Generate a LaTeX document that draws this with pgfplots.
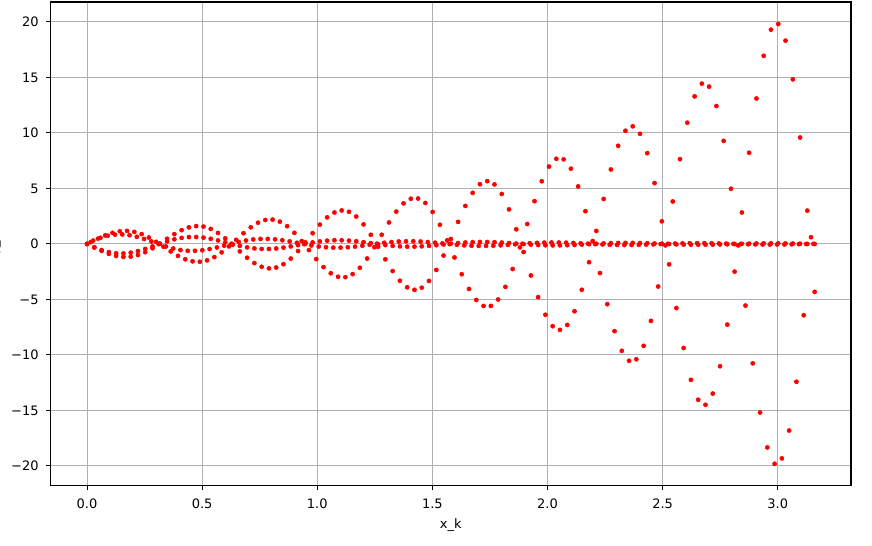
\documentclass[border=0pt]{standalone}
\usepackage{fontspec}
\setmainfont{DejaVu Sans}
\usepackage{pgfplots}
\pgfplotsset{compat=1.18}
\usepackage{pgfplotstable}
\definecolor{gridgray}{RGB}{176,176,176}

% columns: xa = x of series T and I1, xb = x of series I2
\pgfplotstableread{
xa xb T I1 I2
0 0 0 0 0
0.0316 0.0266 -0.321 -0.301 0.301
0.0632 0.0582 -0.629 -0.555 0.555
0.0948 0.0898 -0.893 -0.739 0.739
0.1264 0.1214 -1.082 -0.840 0.840
0.1580 0.1530 -1.171 -0.854 0.854
0.1896 0.1846 -1.146 -0.784 0.784
0.2212 0.2162 -1.000 -0.642 0.642
0.2528 0.2478 -0.742 -0.448 0.448
0.2844 0.2794 -0.390 -0.221 0.221
0.3160 0.3110 0.025 0.013 -0.013
0.3476 0.3426 0.465 0.232 -0.232
0.3792 0.3742 0.885 0.414 -0.414
0.4108 0.4058 1.241 0.546 -0.546
0.4424 0.4374 1.492 0.616 -0.616
0.4740 0.4690 1.606 0.622 -0.622
0.5056 0.5006 1.561 0.568 -0.568
0.5372 0.5322 1.352 0.462 -0.462
0.5688 0.5638 0.991 0.318 -0.318
0.6004 0.5954 0.502 0.151 -0.151
0.6320 0.6270 -0.069 -0.020 0.020
0.6636 0.6586 -0.671 -0.178 0.178
0.6952 0.6902 -1.243 -0.309 0.309
0.7268 0.7218 -1.723 -0.403 0.403
0.7584 0.7534 -2.058 -0.451 0.451
0.7900 0.7850 -2.201 -0.453 0.453
0.8216 0.8166 -2.127 -0.411 0.411
0.8532 0.8482 -1.828 -0.332 0.332
0.8848 0.8798 -1.321 -0.225 0.225
0.9164 0.9114 -0.645 -0.103 0.103
0.9480 0.9430 0.142 0.021 -0.021
0.9796 0.9746 0.966 0.136 -0.136
1.0112 1.0062 1.744 0.231 -0.231
1.0428 1.0378 2.392 0.297 -0.297
1.0744 1.0694 2.837 0.331 -0.331
1.1060 1.1010 3.016 0.330 -0.330
1.1376 1.1326 2.896 0.298 -0.298
1.1692 1.1642 2.470 0.238 -0.238
1.2008 1.1958 1.760 0.159 -0.159
1.2324 1.2274 0.823 0.070 -0.070
1.2640 1.2590 -0.260 -0.021 0.021
1.2956 1.2906 -1.388 -0.104 0.104
1.3272 1.3222 -2.445 -0.172 0.172
1.3588 1.3538 -3.319 -0.219 0.219
1.3904 1.3854 -3.908 -0.242 0.242
1.4220 1.4170 -4.132 -0.240 0.240
1.4536 1.4486 -3.943 -0.215 0.215
1.4852 1.4802 -3.336 -0.171 0.171
1.5168 1.5118 -2.343 -0.113 0.113
1.5484 1.5434 -1.045 -0.047 0.047
1.5800 1.5750 0.446 0.019 -0.019
1.6116 1.6066 1.988 0.079 -0.079
1.6432 1.6382 3.426 0.128 -0.128
1.6748 1.6698 4.603 0.162 -0.162
1.7064 1.7014 5.383 0.177 -0.177
1.7380 1.7330 5.657 0.175 -0.175
1.7696 1.7646 5.365 0.156 -0.156
1.8012 1.7962 4.501 0.123 -0.123
1.8328 1.8278 3.113 0.080 -0.080
1.8644 1.8594 1.318 0.032 -0.032
1.8960 1.8910 -0.734 -0.017 0.017
1.9276 1.9226 -2.843 -0.060 0.060
1.9592 1.9542 -4.795 -0.095 0.095
1.9908 1.9858 -6.379 -0.119 0.119
2.0224 2.0174 -7.411 -0.130 0.130
2.0540 2.0490 -7.744 -0.127 0.127
2.0856 2.0806 -7.298 -0.113 0.113
2.1172 2.1122 -6.069 -0.088 0.088
2.1488 2.1438 -4.130 -0.056 0.056
2.1804 2.1754 -1.647 -0.021 0.021
2.2120 2.2070 1.173 0.014 -0.014
2.2436 2.2386 4.057 0.046 -0.046
2.2752 2.2702 6.709 0.071 -0.071
2.3068 2.3018 8.841 0.088 -0.088
2.3384 2.3334 10.200 0.095 -0.095
2.3700 2.3650 10.596 0.093 -0.093
2.4016 2.3966 9.923 0.081 -0.081
2.4332 2.4282 8.181 0.063 -0.063
2.4648 2.4598 5.481 0.040 -0.040
2.4964 2.4914 2.039 0.014 -0.014
2.5280 2.5230 -1.839 -0.012 0.012
2.5596 2.5546 -5.780 -0.035 0.035
2.5912 2.5862 -9.377 -0.053 0.053
2.6228 2.6178 -12.247 -0.065 0.065
2.6544 2.6494 -14.038 -0.070 0.070
2.6860 2.6810 -14.494 -0.067 0.067
2.7176 2.7126 -13.484 -0.059 0.059
2.7492 2.7442 -11.020 -0.045 0.045
2.7808 2.7758 -7.268 -0.028 0.028
2.8124 2.8074 -2.493 -0.009 0.009
2.8440 2.8390 2.834 0.010 -0.010
2.8756 2.8706 8.217 0.026 -0.026
2.9072 2.9022 13.105 0.039 -0.039
2.9388 2.9338 16.952 0.048 -0.048
2.9704 2.9654 19.306 0.051 -0.051
3.0020 2.9970 19.819 0.049 -0.049
3.0336 3.0286 18.320 0.043 -0.043
3.0652 3.0602 14.830 0.032 -0.032
3.0968 3.0918 9.590 0.020 -0.020
3.1284 3.1234 3.003 0.006 -0.006
3.1600 3.1550 -4.314 -0.008 0.008
}\maintab

\pgfplotstableread{
x y
0.0158 0.160
0.0474 0.479
0.0790 0.769
0.1106 0.999
0.1422 1.140
0.1738 1.173
0.2054 1.087
0.2370 0.884
0.2686 0.576
0.3002 0.188
0.3318 -0.245
0.3634 -0.680
0.3950 -1.074
0.4266 -1.382
0.4582 -1.568
0.4898 -1.604
0.5214 -1.477
0.5530 -1.189
0.5846 -0.761
0.6162 -0.224
0.6478 0.370
0.6794 0.965
0.7110 1.498
0.7426 1.912
0.7742 2.155
0.8058 2.192
0.8374 2.005
0.8690 1.599
0.9006 1.002
0.9322 0.261
0.9638 -0.555
0.9954 -1.366
1.0270 -2.089
1.0586 -2.643
1.0902 -2.962
1.1218 -2.995
1.1534 -2.721
1.1850 -2.148
1.2166 -1.316
1.2482 -0.294
1.2798 0.825
1.3114 1.933
1.3430 2.913
1.3746 3.654
1.4062 4.069
1.4378 4.090
1.4694 3.691
1.5010 2.883
1.5326 1.725
1.5642 0.315
1.5958 -1.220
1.6274 -2.730
1.6590 -4.057
1.6906 -5.048
1.7222 -5.588
1.7538 -5.584
1.7854 -5.003
1.8170 -3.867
1.8486 -2.259
1.8802 -0.312
1.9118 1.794
1.9434 3.853
1.9750 5.646
2.0066 6.973
2.0382 7.671
2.0698 7.620
2.1014 6.779
2.1330 5.182
2.1646 2.948
2.1962 0.263
2.2278 -2.625
2.2594 -5.430
2.2910 -7.858
2.3226 -9.632
2.3542 -10.528
2.3858 -10.395
2.4174 -9.181
2.4490 -6.935
2.4806 -3.836
2.5122 -0.133
2.5438 3.826
2.5754 7.644
2.6070 10.925
2.6386 13.294
2.6702 14.443
2.7018 14.176
2.7334 12.427
2.7650 9.288
2.7966 4.973
2.8282 -0.130
2.8598 -5.554
2.8914 -10.758
2.9230 -15.191
2.9546 -18.337
2.9862 -19.809
3.0178 -19.325
3.0494 -16.814
3.0810 -12.418
3.1126 -6.427
3.1442 0.606
}\btab

\begin{document}
\begin{tikzpicture}
\begin{axis}[
  name=ax,
  scale only axis,
  width=600.2pt, height=362.8pt,
  xmin=-0.158, xmax=3.318,
  ymin=-21.79, ymax=21.80,
  axis on top,
  grid=major,
  major grid style={color=gridgray, line width=0.78pt},
  axis line style={line width=0.78pt, black},
  xtick pos=bottom, ytick pos=left,
  tick align=outside,
  major tick length=3.41pt,
  every tick/.style={black, line width=0.78pt},
  xtick={0,0.5,1,1.5,2,2.5,3},
  xticklabels={0.0,0.5,1.0,1.5,2.0,2.5,3.0},
  ytick={-20,-15,-10,-5,0,5,10,15,20},
  yticklabels={−20,−15,−10,−5,0,5,10,15,20},
  tick label style={font=\fontsize{9.75pt}{11pt}\selectfont, inner sep=0pt},
  xticklabel style={anchor=north, yshift=-6.0pt},
  yticklabel style={anchor=east, xshift=-5.4pt},
  xlabel={x\_k},
  ylabel={y\_k},
  xlabel style={at={(axis description cs:0.5,-0.0674)}, anchor=north, inner sep=0pt, font=\fontsize{9.75pt}{11pt}\selectfont},
  ylabel style={at={(axis description cs:-0.0620,0.5)}, anchor=south, inner sep=0pt, font=\fontsize{9.75pt}{11pt}\selectfont},
]
\addplot[only marks, mark=*, mark size=1.55pt, color=red, mark options={draw=none, fill=red}] table[x=xa, y=T] {\maintab};
\addplot[only marks, mark=*, mark size=1.55pt, color=red, mark options={draw=none, fill=red}] table[x=x, y=y] {\btab};
\addplot[only marks, mark=*, mark size=1.55pt, color=red, mark options={draw=none, fill=red}] table[x=xa, y=I1] {\maintab};
\addplot[only marks, mark=*, mark size=1.55pt, color=red, mark options={draw=none, fill=red}] table[x=xb, y=I2] {\maintab};
\end{axis}
\pgfresetboundingbox
\path[use as bounding box] ([xshift=-38.0pt,yshift=-44.5pt]ax.south west) rectangle ([xshift=15.75pt,yshift=1.5pt]ax.north east);
\end{tikzpicture}
\end{document}
